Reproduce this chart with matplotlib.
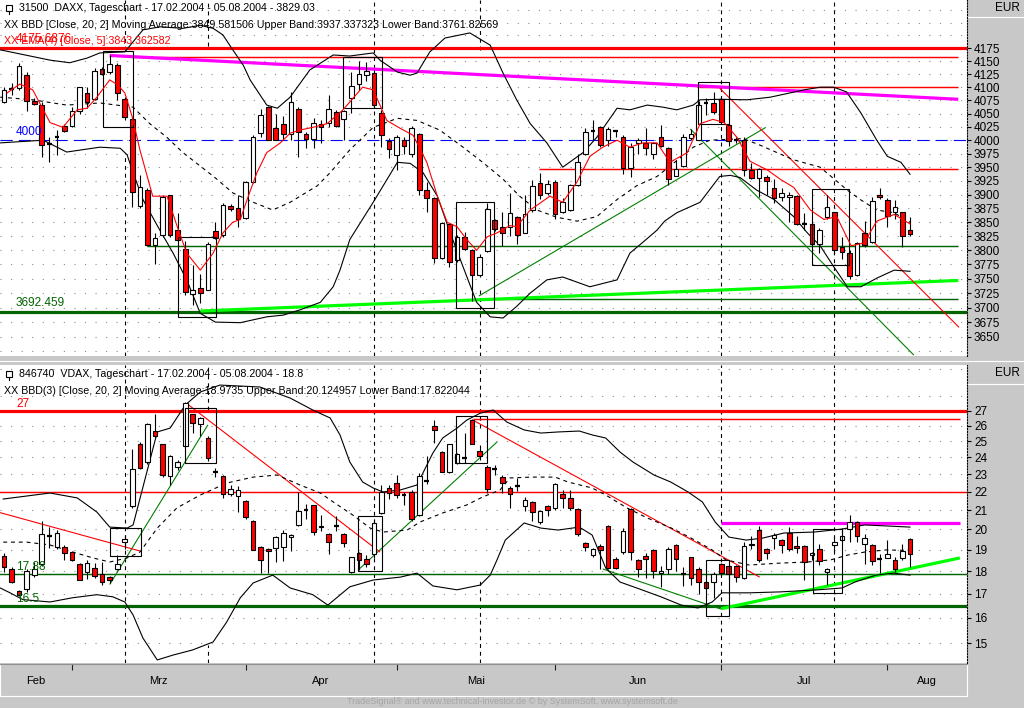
#!/usr/bin/env python3


# +
# import(s)
# -
import matplotlib
matplotlib.use('Agg')
import matplotlib.pyplot as plt
from matplotlib import ticker as mticker
from matplotlib import transforms as mtransforms
from matplotlib.lines import Line2D
from matplotlib.patches import Rectangle


# +
# constant(s)
# -
FIG_W, FIG_H = 1024, 708
BG = '#c8c8c8'
BODY_W = 0.62
X_LEFT, X_RIGHT = -0.53, 127.55
FONT = 'Liberation Sans'
RED = '#ff0000'
DKGREEN = '#006400'
GREEN = '#008000'
LIME = '#00ff00'
MAGENTA = '#ff00ff'
BLUE = '#0000ff'
THIN = 0.8
THICK = 2.3

plt.rcParams['font.family'] = FONT


# +
# data: DAX daily candles (17.02.2004 - 05.08.2004)
# -
DAX_OPEN = [
    4072, 4096, 4098, 4123, 4074, 4066, 3993, 4006, 4026, 4027,
    4055, 4088, 4077, 4135, 4130, 4143, 4077, 4039, 3880, 3908,
    3810, 3828, 3899, 3837, 3803, 3724, 3733, 3731, 3834, 3828,
    3880, 3876, 3857, 3923, 4014, 4062, 4022, 4030, 4012, 4059,
    4011, 4002, 4031, 4033, 4052, 4039, 4079, 4106, 4123, 4128,
    4051, 3998, 3972, 4001, 3975, 4011, 3908, 3894, 3787, 3846,
    3783, 3824, 3801, 3756, 3799, 3854, 3841, 3841, 3859, 3831,
    3872, 3921, 3903, 3923, 3869, 3872, 3918, 3974, 4018, 4024,
    4000, 4017, 4006, 3948, 3994, 3995, 3975, 4006, 3985, 3934,
    3953, 4005, 4001, 4069, 4069, 4077, 4028, 4001, 4000, 3945,
    3931, 3932, 3911, 3896, 3895, 3898, 3847, 3847, 3811, 3859,
    3868, 3806, 3796, 3756, 3830, 3815, 3900, 3891, 3869, 3868,
    3836]
DAX_HIGH = [
    4101, 4108, 4147, 4130, 4079, 4072, 4006, 4019, 4031, 4063,
    4101, 4101, 4136, 4139, 4162, 4146, 4082, 4044, 3935, 3911,
    3830, 3899, 3900, 3866, 3817, 3774, 3759, 3815, 3850, 3884,
    3883, 3900, 3925, 4009, 4059, 4065, 4050, 4045, 4091, 4063,
    4016, 4042, 4037, 4085, 4056, 4056, 4130, 4151, 4149, 4133,
    4056, 4005, 4009, 4006, 4026, 4013, 3923, 3895, 3851, 3848,
    3827, 3833, 3803, 3794, 3885, 3856, 3868, 3903, 3862, 3900,
    3927, 3939, 3926, 3926, 3893, 3919, 3975, 4023, 4038, 4026,
    4024, 4019, 4009, 3994, 4005, 4022, 3997, 4028, 3988, 3963,
    4012, 4020, 4073, 4079, 4091, 4079, 4031, 4006, 4006, 3957,
    3949, 3935, 3929, 3911, 3905, 3899, 3866, 3849, 3839, 3899,
    3869, 3823, 3800, 3815, 3853, 3896, 3911, 3893, 3891, 3869,
    3860]
DAX_LOW = [
    4069, 4086, 4095, 4055, 4066, 3969, 3960, 3972, 4016, 4025,
    4050, 4060, 4076, 4123, 4126, 4076, 4037, 3877, 3875, 3808,
    3775, 3824, 3824, 3817, 3721, 3705, 3707, 3730, 3820, 3824,
    3871, 3842, 3855, 3921, 4006, 4000, 4000, 4000, 4000, 3969,
    3985, 3985, 3994, 4025, 4025, 4000, 4051, 4095, 4111, 4060,
    3987, 3967, 3944, 3975, 3968, 3900, 3868, 3778, 3784, 3770,
    3780, 3800, 3712, 3753, 3797, 3835, 3808, 3826, 3811, 3830,
    3869, 3892, 3899, 3856, 3867, 3870, 3915, 3972, 4000, 3988,
    3989, 4006, 3937, 3932, 3975, 3972, 3966, 3988, 3918, 3933,
    3951, 4000, 4000, 4047, 4050, 4031, 3989, 3995, 3934, 3928,
    3896, 3900, 3884, 3889, 3851, 3845, 3836, 3807, 3795, 3855,
    3794, 3785, 3750, 3755, 3806, 3813, 3892, 3841, 3855, 3806,
    3826]
DAX_CLOSE = [
    4095, 4094, 4141, 4074, 4068, 3991, 3991, 4006, 4017, 4055,
    4100, 4072, 4131, 4125, 4144, 4088, 4043, 3905, 3914, 3810,
    3822, 3896, 3828, 3819, 3727, 3730, 3726, 3812, 3822, 3881,
    3874, 3856, 3923, 4006, 4048, 4000, 4001, 4012, 4072, 4015,
    4003, 4033, 4024, 4059, 4026, 4054, 4102, 4125, 4132, 4066,
    4009, 3984, 4006, 3989, 4022, 3909, 3894, 3787, 3849, 3779,
    3824, 3803, 3756, 3788, 3873, 3838, 3831, 3866, 3828, 3865,
    3915, 3900, 3920, 3864, 3887, 3917, 3960, 4015, 4020, 3991,
    4020, 4017, 3948, 3988, 4001, 3985, 3994, 3989, 3928, 3947,
    4006, 4012, 4067, 4069, 4052, 4034, 3999, 4000, 3945, 3930,
    3946, 3925, 3893, 3903, 3899, 3847, 3847, 3811, 3837, 3877,
    3801, 3797, 3755, 3813, 3809, 3889, 3896, 3861, 3877, 3825,
    3829]

# Bollinger bands (20, 2) and EMA: bar position, value
DAX_UB_X = [-0.5, 6.1, 8.7, 11, 12.7, 16, 18.4, 20.7, 23.7, 26, 27.7, 29, 30.3, 31.7, 32.6, 34.8, 36.2,
            37.9, 40.5, 43.6, 45.8, 48.9, 49.8, 52.1, 53.8, 54.7, 56.4, 58.4, 61.7, 64.4, 66.1, 67.9,
            69.7, 71.9, 74, 76.7, 78.5, 81.2, 82.9, 85.2, 87.3, 89.1, 91.3, 92.2, 94.8, 98.4, 101.5,
            106, 108.1, 109.9, 111.6, 113.5, 115.6, 117, 118.8, 120]
DAX_UB = [4172, 4152, 4147, 4156, 4166, 4168, 4211, 4217, 4214, 4220, 4214, 4201, 4172, 4142, 4114, 4066,
          4060, 4081, 4133, 4162, 4160, 4166, 4152, 4129, 4123, 4127, 4168, 4195, 4205, 4181, 4127,
          4076, 4031, 3995, 3950, 3977, 4005, 4060, 4057, 4066, 4062, 4057, 4066, 4076, 4077, 4076,
          4081, 4095, 4100, 4100, 4091, 4051, 4000, 3970, 3959, 3937]
DAX_LB_X = [-0.5, 5.2, 8.3, 12.7, 15.4, 16.3, 17.1, 18.4, 20.3, 22.4, 24.2, 26, 28, 31.3, 34.8, 37,
            39.2, 41.9, 43.6, 44.5, 45.8, 48.9, 52.1, 53.8, 55.5, 57.4, 59.1, 60.8, 62.6, 64.4, 66.1,
            67.9, 69.7, 71.9, 74, 77.6, 81.2, 82.9, 84.6, 86.5, 87.5, 89.1, 92.2, 94.8, 96.2, 97.5,
            99.7, 102, 104.6, 106.4, 108.1, 109.9, 111.7, 113.5, 115.6, 117.9, 120]
DAX_LB = [3995, 4000, 3978, 3987, 3985, 3973, 3940, 3891, 3844, 3795, 3748, 3690, 3675, 3674, 3684, 3687,
          3696, 3709, 3736, 3765, 3819, 3886, 3959, 3957, 3940, 3897, 3831, 3771, 3709, 3684, 3682,
          3702, 3725, 3748, 3753, 3736, 3748, 3795, 3814, 3836, 3852, 3867, 3886, 3933, 3935, 3931,
          3908, 3891, 3860, 3831, 3808, 3771, 3736, 3736, 3751, 3765, 3763]
DAX_MB_X = [-0.5, 3.8, 8.3, 12.7, 17.1, 19.3, 21.6, 23.7, 26, 28.2, 30.3, 33, 35.6, 37.9, 41.5, 43.2,
            45.8, 48.9, 52.1, 54.7, 57.7, 60.8, 63.4, 66.1, 68.3, 70.6, 73.2, 75.9, 78.5, 81.2, 83.8,
            86.5, 88.2, 91.3, 93.5, 97.9, 100.1, 104.5, 108.1, 111.7, 113.4, 115.6, 117.9, 120]
DAX_MB = [4081, 4076, 4066, 4070, 4062, 4031, 4005, 3977, 3952, 3928, 3903, 3886, 3872, 3886, 3916, 3940,
          3982, 4024, 4041, 4037, 4019, 3987, 3959, 3928, 3897, 3872, 3859, 3852, 3860, 3891, 3916,
          3933, 3952, 3987, 4000, 4003, 3991, 3964, 3950, 3908, 3891, 3872, 3867, 3850]
DAX_EMA_X = [0.4, 2.1, 3.8, 5.2, 6.1, 7.8, 9.7, 11, 12.3, 14, 15.1, 16, 17, 18, 19.7, 21.6, 22.9, 24.2,
             26, 27.7, 29, 30.3, 31.3, 32.2, 33.5, 34.8, 36.6, 37.9, 39.2, 40.9, 42.8, 44.9, 47.5,
             48.9, 50.7, 52.5, 54.2, 56, 57.4, 58.7, 60, 61.3, 62.6, 64, 65.3, 67, 67.9, 69.7, 72.3,
             74, 75.9, 77.6, 79.3, 81.2, 82.9, 84.6, 86.5, 88.2, 90.5, 92.2, 93.9, 95.4, 97.1, 98.8,
             101.1, 102.8, 104.6, 106.8, 108.6, 110.3, 112.2, 113.9, 115.6, 117.9, 120]
DAX_EMA = [4089, 4106, 4095, 4057, 4033, 4024, 4057, 4060, 4081, 4114, 4104, 4089, 4043, 3982, 3897,
           3897, 3844, 3795, 3765, 3795, 3831, 3850, 3855, 3891, 3940, 3977, 3995, 4013, 4019, 4024,
           4031, 4057, 4100, 4095, 4037, 4022, 4009, 3959, 3897, 3850, 3842, 3819, 3800, 3824, 3831,
           3844, 3842, 3872, 3897, 3886, 3923, 3970, 3987, 4000, 3987, 3995, 3995, 3959, 3977, 4031,
           4039, 4033, 4005, 3961, 3945, 3928, 3913, 3872, 3855, 3860, 3808, 3813, 3852, 3864, 3847]


# +
# data: VDAX daily candles
# -
VDAX_OPEN = [
    18.72, 18.10, 17.12, 17.19, 17.82, 18.31, 19.65, 19.14, 19.14, 18.88,
    18.31, 17.97, 18.16, 17.85, 17.75, 18.09, 19.39, 21.20, 24.80, 23.70,
    25.65, 24.80, 22.90, 23.40, 24.70, 26.75, 26.10, 25.20, 23.10, 22.90,
    21.90, 21.75, 21.50, 20.45, 19.15, 19.03, 19.10, 19.14, 19.60, 20.25,
    21.00, 21.25, 20.20, 19.75, 20.20, 19.75, 17.94, 18.83, 18.55, 18.78,
    20.85, 22.20, 22.50, 21.80, 22.00, 20.75, 22.60, 25.95, 24.30, 23.10,
    23.65, 23.95, 26.40, 24.40, 23.40, 23.30, 22.85, 22.20, 22.35, 21.20,
    21.45, 20.37, 21.20, 21.10, 21.90, 21.65, 21.05, 19.35, 18.75, 19.20,
    20.20, 18.57, 18.88, 21.05, 18.52, 18.70, 18.98, 17.93, 18.10, 19.25,
    17.85, 18.64, 18.10, 17.50, 17.53, 18.33, 18.25, 18.22, 17.68, 19.22,
    19.97, 19.03, 19.55, 19.45, 19.80, 19.20, 19.20, 18.75, 19.06, 17.97,
    19.22, 19.47, 20.03, 20.37, 19.30, 19.25, 18.56, 18.63, 18.52, 18.63,
    19.52]
VDAX_HIGH = [
    18.83, 18.20, 17.16, 18.12, 18.40, 20.45, 20.13, 19.95, 19.22, 18.90,
    18.36, 18.52, 18.36, 18.40, 17.80, 18.75, 19.72, 24.50, 24.95, 26.15,
    26.75, 24.85, 24.15, 23.85, 27.60, 26.80, 26.60, 25.35, 23.35, 22.95,
    22.40, 22.30, 21.55, 20.50, 19.19, 19.10, 19.65, 19.97, 19.75, 22.00,
    21.35, 21.30, 20.75, 19.80, 20.70, 19.80, 18.67, 18.90, 18.75, 20.55,
    22.40, 22.40, 22.95, 22.00, 22.10, 23.05, 24.10, 26.35, 24.40, 24.85,
    24.25, 25.55, 26.45, 24.75, 23.55, 23.55, 22.95, 22.30, 22.75, 21.70,
    21.50, 21.00, 21.25, 22.50, 22.10, 22.10, 21.10, 19.40, 19.10, 19.30,
    20.25, 18.64, 20.05, 21.10, 18.57, 18.85, 19.03, 18.25, 19.14, 19.30,
    18.20, 18.64, 18.20, 17.56, 17.97, 18.38, 18.33, 18.28, 19.40, 19.65,
    20.20, 19.10, 19.80, 19.52, 20.10, 19.65, 19.22, 18.90, 19.30, 18.16,
    19.58, 20.05, 20.75, 20.45, 19.75, 19.30, 18.78, 19.45, 18.67, 19.30,
    19.58]
VDAX_LOW = [
    17.97, 17.46, 16.90, 17.09, 17.75, 18.25, 19.10, 19.06, 18.52, 18.47,
    17.59, 17.65, 17.68, 17.40, 17.46, 18.06, 19.03, 21.10, 23.30, 23.60,
    25.20, 22.85, 22.40, 23.25, 24.65, 25.50, 25.35, 23.80, 22.85, 21.65,
    21.75, 20.90, 20.55, 18.97, 17.90, 17.90, 18.44, 18.47, 18.94, 20.20,
    20.55, 19.70, 19.90, 18.80, 19.90, 19.14, 17.90, 18.05, 18.20, 18.60,
    20.80, 21.60, 21.65, 21.30, 20.45, 20.70, 22.45, 24.90, 23.10, 23.05,
    23.60, 23.65, 24.80, 23.85, 21.95, 22.95, 21.95, 21.10, 22.05, 20.95,
    20.45, 20.30, 20.70, 21.00, 21.10, 21.00, 19.65, 18.95, 18.67, 18.12,
    18.12, 18.12, 18.78, 18.52, 17.75, 17.70, 17.70, 17.30, 17.85, 18.00,
    17.35, 17.40, 16.97, 17.24, 16.80, 17.82, 17.60, 17.50, 17.65, 19.03,
    18.44, 18.55, 19.06, 18.83, 18.94, 18.83, 17.60, 18.52, 18.28, 17.40,
    18.88, 19.42, 19.39, 19.39, 18.33, 18.28, 17.90, 18.60, 17.97, 18.52,
    18.20]
VDAX_CLOSE = [
    18.20, 17.50, 16.95, 18.00, 18.09, 19.75, 19.65, 19.83, 18.83, 18.52,
    17.62, 18.36, 17.78, 17.53, 17.60, 18.31, 19.53, 23.30, 23.35, 26.10,
    25.30, 22.95, 24.10, 23.70, 27.50, 26.15, 26.50, 23.95, 23.10, 21.90,
    22.15, 22.10, 20.65, 19.00, 18.52, 18.94, 19.60, 19.80, 19.70, 20.97,
    21.00, 19.85, 20.10, 19.40, 20.20, 19.35, 18.64, 18.52, 18.33, 20.35,
    21.97, 21.95, 21.80, 21.80, 20.55, 22.90, 22.60, 25.70, 23.15, 24.80,
    24.20, 23.95, 24.85, 24.10, 22.15, 23.30, 22.50, 21.85, 22.35, 21.55,
    20.90, 20.95, 21.02, 22.45, 21.65, 21.10, 19.77, 19.13, 19.03, 18.98,
    18.15, 18.15, 19.90, 18.88, 18.10, 18.55, 18.00, 18.00, 19.03, 18.57,
    17.85, 17.70, 17.50, 17.26, 17.85, 17.90, 17.85, 17.72, 19.19, 19.30,
    18.52, 18.83, 19.70, 19.22, 19.03, 19.10, 18.40, 18.83, 18.47, 18.10,
    19.39, 19.65, 20.40, 19.65, 19.55, 18.47, 18.56, 18.78, 18.12, 18.94,
    18.80]

VDAX_UB_X = [-0.1, 6.1, 9.7, 12.3, 14, 16.3, 17.1, 20.3, 22, 24, 26, 28.6, 31.3, 33.9, 37.9, 40.9, 43.2,
             44.5, 45.8, 47.5, 48.9, 50.2, 52.5, 54.7, 56.8, 58.1, 60, 61.3, 63.1, 64.8, 66.6, 68.9,
             71.1, 73.4, 76.2, 77.9, 79.7, 81.6, 83.3, 86.1, 88.3, 90.6, 92.5, 94.2, 96, 98.3, 100.5,
             103.3, 107.3, 111, 114, 116.8, 120]
VDAX_UB = [21.60, 21.93, 21.66, 20.90, 20.12, 20.07, 20.23, 25.59, 25.84, 27.39, 28.31, 28.81, 28.74,
           28.67, 27.88, 27.05, 26.51, 25.40, 23.72, 22.55, 22.21, 21.99, 22.10, 22.38, 24.26, 25.20,
           25.84, 26.37, 26.84, 27.05, 26.24, 25.72, 25.52, 25.59, 25.65, 25.40, 25.20, 24.32, 23.72,
           22.95, 22.55, 21.99, 21.44, 20.38, 19.62, 19.47, 19.57, 19.82, 19.87, 20.02, 20.23, 20.18,
           20.12]
VDAX_LB_X = [-0.5, 0.8, 2.5, 6.1, 9.1, 12.3, 14.4, 16, 17.1, 18.4, 20.3, 22.4, 25, 27.7, 29.5, 31.3,
             33, 35.6, 37.9, 40.9, 42.9, 45.8, 48.9, 52.5, 54.7, 56.8, 60, 63.1, 64.4, 65.3, 66.4,
             68.9, 71.1, 73.4, 76.2, 77.9, 79.7, 81.6, 83.8, 87, 89.7, 91.9, 93.8, 95.1, 98.7, 102.8,
             107.8, 111, 112.7, 115.5, 117.8, 120]
VDAX_LB = [17.25, 17.04, 16.75, 16.65, 16.83, 16.96, 16.87, 16.65, 16.11, 15.20, 14.38, 14.56, 14.75,
           15.05, 15.83, 16.83, 17.47, 17.82, 17.25, 16.96, 16.52, 17.30, 17.60, 17.73, 17.91, 17.34,
           17.17, 17.38, 17.82, 18.52, 19.47, 20.33, 20.07, 19.97, 20.12, 19.72, 18.14, 17.51, 17.25,
           16.87, 16.52, 16.40, 16.65, 17.04, 17.04, 17.08, 17.17, 17.25, 17.51, 17.82, 17.91, 17.82]
VDAX_MB_X = [-0.1, 3, 6.1, 9.1, 11.8, 14, 16.3, 18, 20.3, 22.9, 26, 29.5, 33, 36.2, 39.2, 41.9, 43.6,
             46.2, 48.5, 50.2, 53.4, 55.1, 58.1, 61.3, 63.4, 65.7, 67, 69.8, 73, 74.7, 77.9, 79.7,
             82.5, 85.2, 88.4, 91, 93.8, 95.6, 98.7, 102.8, 106.4, 109.5, 111.8, 114, 116.8, 120]
VDAX_MB = [19.37, 19.37, 19.23, 18.89, 18.61, 18.42, 18.61, 18.89, 20.07, 21.12, 21.82, 22.49, 22.83,
           22.95, 22.38, 21.93, 21.44, 20.74, 20.07, 19.87, 19.97, 20.38, 20.85, 21.28, 21.71, 22.10,
           22.78, 22.83, 22.83, 22.55, 22.21, 21.82, 21.12, 20.59, 20.07, 19.57, 18.99, 18.52, 18.28,
           18.37, 18.42, 18.52, 18.75, 18.89, 18.99, 18.97]


# +
# data: drawing tools (levels, trend lines, boxes), cycle marks and axis texts
# -
DAX_TICKS = list(range(3650, 4176, 25))
DAX_GRID = list(range(3625, 4251, 25))
VDAX_TICKS = list(range(15, 28))
VDAX_GRID = list(range(15, 29)) + [30]

# (value, label, colour, width, style)
DAX_LEVELS = [(4175.6876, '4175.6876', RED, THICK, '-'),
              (4000.0, '4000', BLUE, THIN, (0, (11, 5.5))),
              (3692.459, '3692.459', DKGREEN, THICK, '-')]
VDAX_LEVELS = [(27.0, '27', RED, THICK, '-'),
               (22.0, '', RED, THIN * 1.3, '-'),
               (17.88, '17.88', DKGREEN, THIN * 1.3, '-'),
               (16.5, '16.5', DKGREEN, THICK, '-')]

# (value, bar from, bar to, colour, width)
DAX_SEGMENTS = [(4158, 17, 126.4, RED, THIN * 1.3),
                (4100, 92, 126.4, RED, THIN * 1.3),
                (3947, 70.9, 126.4, RED, THIN * 1.3),
                (3808, 18.9, 126.4, DKGREEN, THIN * 1.3),
                (3714, 63, 126.4, DKGREEN, THIN * 1.3)]
VDAX_SEGMENTS = [(26.45, 62.1, 126.6, RED, THIN * 1.3),
                 (20.35, 95, 126.6, MAGENTA, THICK)]

# (bar0, value0, bar1, value1, colour, width)
DAX_TRENDS = [(14, 4161, 126.4, 4077, MAGENTA, THICK),
              (26, 3694, 126.4, 3747, LIME, THICK),
              (62.9, 3720, 100.9, 4024, GREEN, THIN),
              (90.9, 4021, 120.5, 3619, GREEN, THIN),
              (94.8, 4098, 126.5, 3666, RED, THIN)]
VDAX_TRENDS = [(95, 16.37, 126.6, 18.61, LIME, THICK),
               (14, 17.4, 27, 26.05, GREEN, THIN),
               (46.9, 18.05, 65.3, 24.95, GREEN, THIN),
               (79.3, 18.1, 95, 16.35, GREEN, THIN),
               (-0.53, 20.87, 18, 18.94, RED, THIN),
               (24.2, 27.5, 49.8, 18.89, RED, THIN),
               (62.1, 26.37, 100.1, 17.73, RED, THIN)]

# (bar0, bar1, low, high)
DAX_BOXES = [(13.1, 17.1, 4024.7, 4169.7),
             (23.0, 28.1, 3683.7, 3823.6),
             (44.9, 50.1, 4060.4, 4158.0),
             (59.9, 64.9, 3700.0, 3886.4),
             (91.9, 96.0, 4030.3, 4110.0),
             (107.0, 111.9, 3774.0, 3910.0)]
VDAX_BOXES = [(14.0, 18.1, 18.70, 20.07),
              (24.0, 28.1, 23.66, 27.18),
              (46.9, 50.1, 18.00, 20.70),
              (59.9, 64.0, 23.66, 26.64),
              (93.0, 96.0, 16.05, 18.52),
              (107.2, 111.0, 17.04, 20.02)]

# cycle marks: bar, visible spans (axes fraction) in top and bottom panel
CYCLES = [(16, [(0.0, 0.57), (0.86, 1.0)], [(0.0, 1.0)]),
          (27, [(0.87, 1.0)], [(0.0, 0.06), (0.85, 1.0)]),
          (49, [(0.0, 1.0)], [(0.0, 1.0)]),
          (63, [(0.0, 0.185), (0.86, 1.0)], [(0.0, 0.28), (0.79, 1.0)]),
          (95, [(0.0, 1.0)], [(0.0, 1.0)]),
          (110, [(0.0, 1.0)], [(0.0, 1.0)])]

MONTH_STARTS = [9, 32, 52, 73, 95, 117]
MONTH_NAMES = ['Feb', 'Mrz', 'Apr', 'Mai', 'Jun', 'Jul', 'Aug']

DAX_HEADER = ['31500  DAXX, Tageschart - 17.02.2004 - 05.08.2004 - 3829.03',
              'XX BBD [Close, 20, 2] Moving Average:3849.581506 Upper Band:3937.337323 Lower Band:3761.82569',
              'XX EMA(4) [Close, 5]:3843.362582']
VDAX_HEADER = ['846740  VDAX, Tageschart - 17.02.2004 - 05.08.2004 - 18.8',
               'XX BBD(3) [Close, 20, 2] Moving Average:18.9735 Upper Band:20.124957 Lower Band:17.822044']
FOOTER = 'TradeSignal\u00ae and www.technical-investor.de \u00a9 by SystemSoft, www.systemsoft.de'


# +
# function(s)
# -
def fx(px):
    return px / FIG_W


def fy(py):
    return 1.0 - py / FIG_H


def setup_panel(ax, lo, hi, ticks, grid):
    ax.set_facecolor('white')
    ax.set_yscale('log')
    ax.set_xlim(X_LEFT, X_RIGHT)
    ax.set_ylim(lo, hi)
    ax.set_xticks([])
    ax.yaxis.tick_right()
    ax.yaxis.set_minor_locator(mticker.NullLocator())
    ax.set_yticks(ticks)
    ax.set_yticklabels([f'{t:g}' for t in ticks])
    ax.tick_params(axis='y', direction='out', length=3, width=0.8, pad=2, labelsize=8.5)
    for _s in ('left', 'top', 'bottom'):
        ax.spines[_s].set_visible(False)
    ax.spines['right'].set_linestyle((0, (1, 1.6)))
    ax.spines['right'].set_linewidth(0.8)
    ax.hlines(grid, X_LEFT, X_RIGHT, colors='#8c8c8c', linestyles=(0, (1, 8.5)), lw=0.8, zorder=0)


def draw_candles(ax, o, h, l, c, tol):
    _x = list(range(len(o)))
    ax.vlines(_x, l, h, colors='black', lw=THIN, zorder=5)
    for _i, (_o, _c) in enumerate(zip(o, c)):
        if abs(_c - _o) <= tol:
            ax.hlines(_o, _i - BODY_W / 2, _i + BODY_W / 2, colors='black', lw=1.6, zorder=6)
            continue
        _face = 'white' if _c > _o else RED
        ax.add_patch(Rectangle((_i - BODY_W / 2, min(_o, _c)), BODY_W, abs(_c - _o),
                               facecolor=_face, edgecolor='black', lw=THIN, zorder=6))


def draw_tools(ax, levels, segments, trends, boxes):
    _tr = mtransforms.blended_transform_factory(ax.transAxes, ax.transData)
    for _v, _lab, _col, _lw, _ls in levels:
        ax.axhline(_v, color=_col, lw=_lw, ls=_ls, zorder=3)
        if _lab:
            ax.text(0.0165, _v * 1.0012, _lab, color=_col, fontsize=8.5, va='bottom', ha='left',
                    transform=_tr, zorder=9)
    for _v, _x0, _x1, _col, _lw in segments:
        ax.hlines(_v, _x0, _x1, colors=_col, lw=_lw, zorder=3)
    for _x0, _v0, _x1, _v1, _col, _lw in trends:
        ax.plot([_x0, _x1], [_v0, _v1], color=_col, lw=_lw, zorder=3, solid_capstyle='butt')
    for _x0, _x1, _lo, _hi in boxes:
        ax.add_patch(Rectangle((_x0, _lo), _x1 - _x0, _hi - _lo, fill=False,
                               edgecolor='black', lw=THIN, zorder=7))


def draw_bands(ax, ub_x, ub, mb_x, mb, lb_x, lb):
    ax.plot(ub_x, ub, color='black', lw=THIN, zorder=4)
    ax.plot(lb_x, lb, color='black', lw=THIN, zorder=4)
    ax.plot(mb_x, mb, color='black', lw=THIN, ls=(0, (3.5, 3.5)), zorder=4)


def draw_cycles(ax, top):
    for _bar, _spans_top, _spans_bot in CYCLES:
        for _y0, _y1 in (_spans_top if top else _spans_bot):
            ax.axvline(_bar, _y0, _y1, color='black', lw=THIN, ls=(0, (3.5, 3.5)), zorder=1)


def draw_header(fig, lines, colors, y0):
    for _k, (_t, _c) in enumerate(zip(lines, colors)):
        _x = 19 if _k == 0 else 4
        fig.text(fx(_x), fy(y0 + 16.5 * _k), _t, color=_c, fontsize=7.7, va='center', ha='left')
    # small candle icon in front of the symbol name
    fig.patches.append(Rectangle((fx(6), fy(y0 + 3)), fx(6), 6 / FIG_H, facecolor='white',
                                 edgecolor='black', lw=THIN, transform=fig.transFigure, figure=fig))
    fig.lines.append(Line2D([fx(9), fx(9)], [fy(y0 + 6), fy(y0 + 3)], color='black', lw=THIN,
                            transform=fig.transFigure, figure=fig))


# +
# main()
# -
if __name__ == '__main__':

    fig = plt.figure(figsize=(FIG_W / 100, FIG_H / 100), dpi=100, facecolor=BG)
    ax_top = fig.add_axes([0, fy(356), fx(967), 356 / FIG_H])
    ax_bot = fig.add_axes([0, fy(663), fx(967), (663 - 365) / FIG_H])
    ax_mon = fig.add_axes([0, fy(696), fx(967), (696 - 664) / FIG_H])

    # top panel: DAX
    setup_panel(ax_top, 3617.4, 4270.0, DAX_TICKS, DAX_GRID)
    draw_cycles(ax_top, True)
    draw_tools(ax_top, DAX_LEVELS, DAX_SEGMENTS, DAX_TRENDS, DAX_BOXES)
    draw_bands(ax_top, DAX_UB_X, DAX_UB, DAX_MB_X, DAX_MB, DAX_LB_X, DAX_LB)
    ax_top.plot(DAX_EMA_X, DAX_EMA, color=RED, lw=THIN, zorder=8)
    draw_candles(ax_top, DAX_OPEN, DAX_HIGH, DAX_LOW, DAX_CLOSE, 2.5)

    # bottom panel: VDAX
    setup_panel(ax_bot, 14.27, 30.31, VDAX_TICKS, VDAX_GRID)
    draw_cycles(ax_bot, False)
    draw_tools(ax_bot, VDAX_LEVELS, VDAX_SEGMENTS, VDAX_TRENDS, VDAX_BOXES)
    draw_bands(ax_bot, VDAX_UB_X, VDAX_UB, VDAX_MB_X, VDAX_MB, VDAX_LB_X, VDAX_LB)
    draw_candles(ax_bot, VDAX_OPEN, VDAX_HIGH, VDAX_LOW, VDAX_CLOSE, 0.02)

    # month axis
    ax_mon.set_facecolor(BG)
    ax_mon.set_xlim(X_LEFT, X_RIGHT)
    ax_mon.set_ylim(0, 1)
    ax_mon.set_xticks([])
    ax_mon.set_yticks([])
    for _s in ('left', 'bottom', 'right'):
        ax_mon.spines[_s].set_color('white')
    ax_mon.spines['top'].set_color('#909090')
    ax_mon.vlines(MONTH_STARTS, 0.8, 1.0, colors='#202020', lw=THIN)
    _edges = [X_LEFT] + MONTH_STARTS + [X_RIGHT]
    for _k, _name in enumerate(MONTH_NAMES):
        ax_mon.text((_edges[_k] + _edges[_k + 1]) / 2, 0.48, _name, fontsize=8, ha='center',
                    va='center', color='black', stretch='condensed')

    # headers, right-hand strip and footer
    draw_header(fig, DAX_HEADER, ['black', 'black', RED], 8)
    draw_header(fig, VDAX_HEADER, ['black', 'black'], 374)
    for _yy in (8, 373):
        fig.text(fx(1020), fy(_yy), 'EUR', fontsize=8.5, ha='right', va='center')
    for _yy in (16.5, 383.5):
        fig.lines.append(Line2D([fx(968), fx(1024)], [fy(_yy), fy(_yy)], color='white', lw=THIN,
                                transform=fig.transFigure, figure=fig))
    fig.lines.append(Line2D([0, 1], [fy(361), fy(361)], color='white', lw=THIN,
                            transform=fig.transFigure, figure=fig))
    fig.text(fx(512), fy(702), FOOTER, fontsize=6.5, color='#a4a4a4', ha='center', va='center',
             stretch='condensed')

    plt.savefig('out.png', dpi=100, facecolor=BG)
    plt.close()
